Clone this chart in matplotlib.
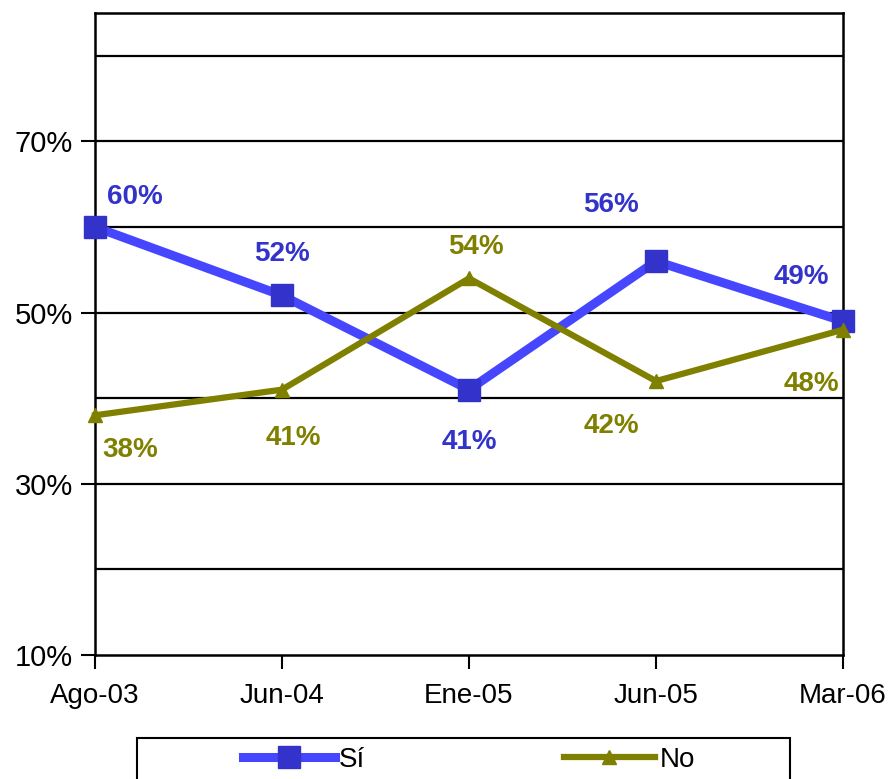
import matplotlib
matplotlib.use("Agg")
import matplotlib.pyplot as plt
from matplotlib.ticker import FixedLocator, PercentFormatter
from matplotlib.patches import Rectangle

plt.rcParams['font.family'] = ['Liberation Sans', 'DejaVu Sans']

categories = ["Ago-03", "Jun-04", "Ene-05", "Jun-05", "Mar-06"]
si_values = [60, 52, 41, 56, 49]
no_values = [38, 41, 54, 42, 48]
y_ticks = [10, 30, 50, 70]
grid_levels = [20, 30, 40, 50, 60, 70, 80]

si_offsets = [(40, 30), (0, 41), (0, -52), (-45, 56), (-42, 44)]
no_offsets = [(35, -35), (11, -48), (7, 31), (-45, -45), (-32, -54)]

fig = plt.figure(figsize=(8.92, 7.79), dpi=100)
ax = fig.add_axes([95/892, 1-655/779, (843-95)/892, (655-13)/779])

x = list(range(len(categories)))
for g in grid_levels:
    ax.axhline(g, color='black', lw=1.6, zorder=1)

ax.plot(x, si_values, color='#4646FF', lw=6.5, marker='s', markersize=16,
        markerfacecolor='#3333CC', markeredgecolor='#3333CC', zorder=3, label='Sí',
        clip_on=False)
ax.plot(x, no_values, color='#808000', lw=4.5, marker='^', markersize=10,
        markerfacecolor='#808000', markeredgecolor='#808000', zorder=4, label='No',
        clip_on=False)

for xi, v, off in zip(x, si_values, si_offsets):
    ax.annotate(f"{v}%", (xi, v), xytext=off, textcoords='offset pixels',
                ha='center', va='center', fontsize=20, fontweight='bold', color='#3333CC')
for xi, v, off in zip(x, no_values, no_offsets):
    ax.annotate(f"{v}%", (xi, v), xytext=off, textcoords='offset pixels',
                ha='center', va='center', fontsize=20, fontweight='bold', color='#808000')

ax.set_xlim(0, len(categories) - 1)
ax.set_ylim(10, 85)
ax.set_xticks(x)
ax.set_xticklabels(categories, fontsize=20)
ax.yaxis.set_major_locator(FixedLocator(y_ticks))
ax.yaxis.set_major_formatter(PercentFormatter(decimals=0))
ax.tick_params(axis='y', labelsize=21, length=10, width=1.5, direction='out', pad=6)
ax.tick_params(axis='x', length=10, width=1.5, direction='out', pad=10)
for s in ax.spines.values():
    s.set_linewidth(1.8)
    s.set_color('black')

# legend frame (extends past bottom edge as in the reference)
fig.patches.append(Rectangle((137/892, -0.05), (790-137)/892, 0.05 + 1-738/779,
                             transform=fig.transFigure, fill=False,
                             edgecolor='black', lw=1.5))
leg = fig.legend(loc='center left', bbox_to_anchor=(229/892, 1-760/779),
                 ncol=2, fontsize=20, frameon=False, borderpad=0,
                 handlelength=3.3, handletextpad=0.15, columnspacing=7.15)

fig.savefig("out.png", dpi=100)
